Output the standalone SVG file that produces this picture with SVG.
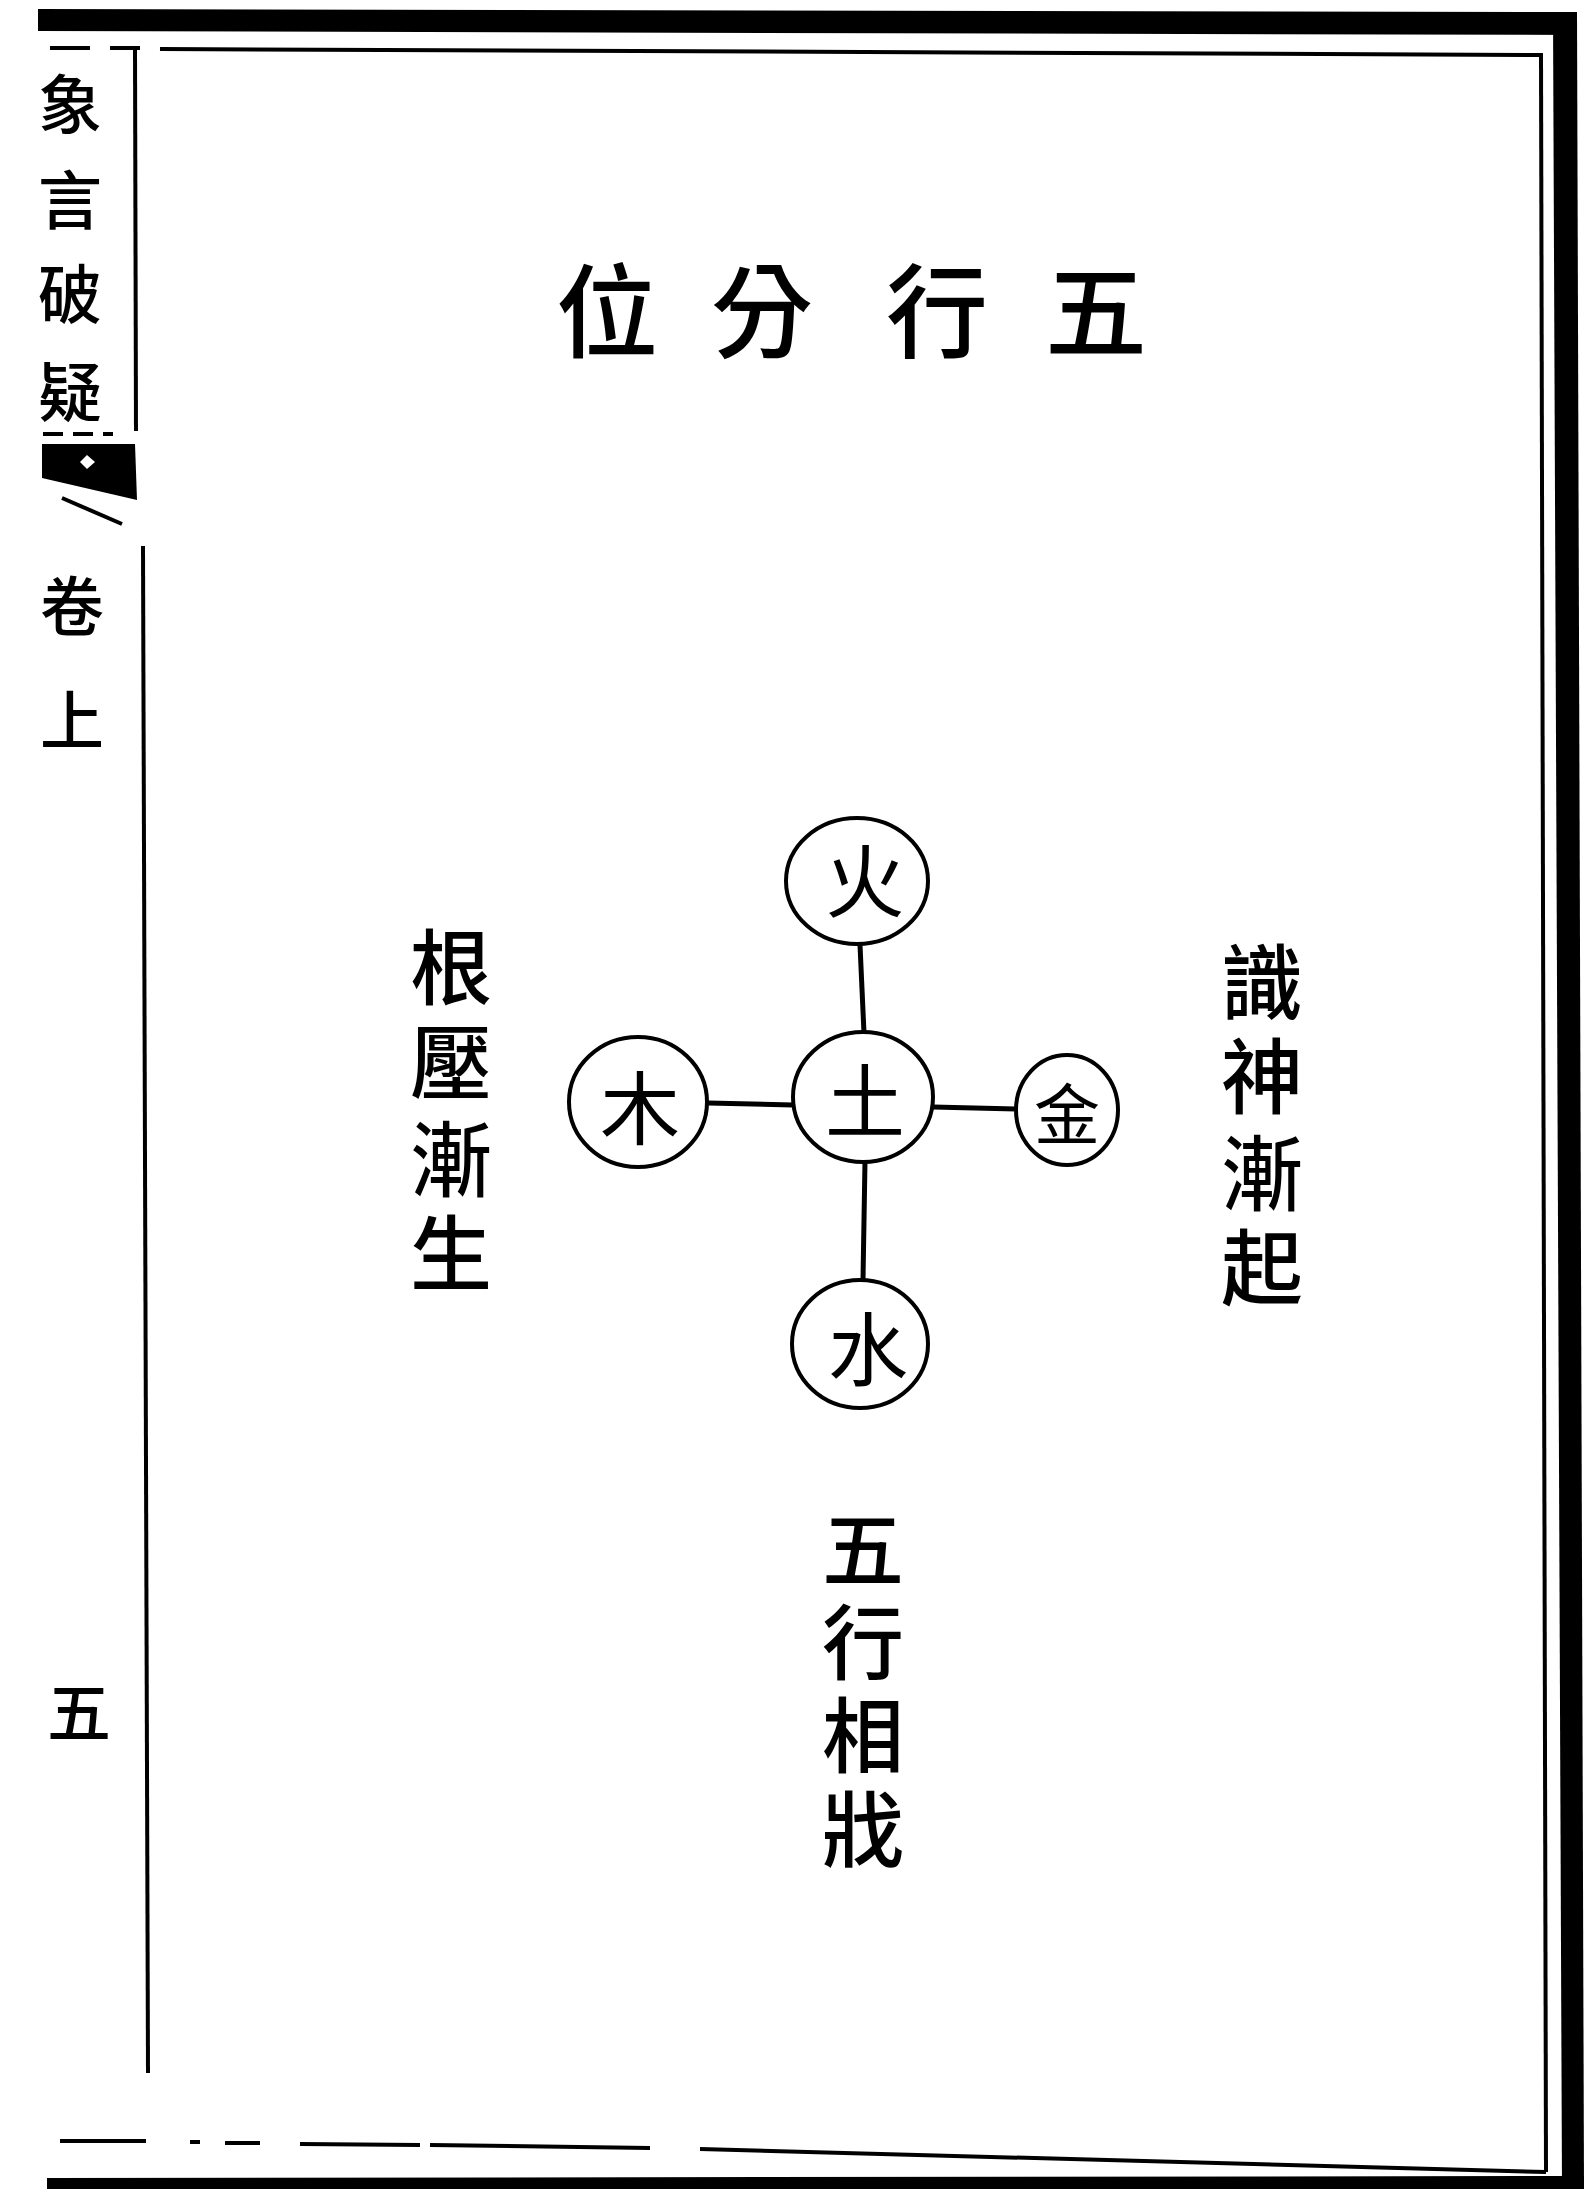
<svg xmlns="http://www.w3.org/2000/svg" width="1584" height="2189" viewBox="0 0 1584 2189">
<style>
.cjk{font-family:"Noto Sans CJK TC","Noto Sans CJK SC",sans-serif;fill:#000;text-anchor:middle;dominant-baseline:central}
.t{font-size:102px;font-weight:500}
.v{font-size:82px;font-weight:500}
.c{font-size:80px}
.s{font-size:64px;font-weight:500}
.node{fill:#fff;stroke:#000;stroke-width:4}
.edge{stroke:#000;stroke-width:5;fill:none}
.rule{stroke:#000;stroke-width:4;fill:none}
</style>
<rect width="1584" height="2189" fill="#fff"/>
<g id="frame">
<polygon points="38,9 1577,12 1577,35 38,31" fill="#000"/>
<polygon points="1553,12 1577,12 1584,2189 1562,2189" fill="#000"/>
<polygon points="47,2178 1584,2176 1584,2189 47,2189" fill="#000"/>
<path class="rule" d="M50,48 L90,48 M110,48 L140,48 M160,49 L1543,55"/>
<path class="rule" d="M1541,55 L1546,2172"/>
<path class="rule" d="M60,2141 L146,2141 M190,2142 L200,2142 M225,2143 L260,2143 M300,2144 L420,2145 M430,2145 L650,2148 M700,2149 L1546,2172"/>
<path class="rule" d="M135,48 L136,431"/>
<path class="rule" d="M143,546 L148,2073"/>
<path class="rule" d="M43,434 L113,434" stroke-dasharray="20,10"/>
<polygon points="42,444 135,444 137,500 42,478" fill="#000"/>
<polygon points="80,462 87,455 95,462 87,469" fill="#fff"/>
<path class="rule" d="M62,498 L122,524" stroke-width="3"/>
</g>
<g id="margin-text">
<text class="cjk s" x="70" y="100">象</text>
<text class="cjk s" x="70" y="196">言</text>
<text class="cjk s" x="70" y="290">破</text>
<text class="cjk s" x="70" y="388">疑</text>
<text class="cjk s" x="72" y="602">卷</text>
<text class="cjk s" x="72" y="716">上</text>
<text class="cjk s" x="79" y="1708" font-weight="700">五</text>
</g>
<g id="title">
<text class="cjk t" x="607" y="305">位</text>
<text class="cjk t" x="762" y="305">分</text>
<text class="cjk t" x="937" y="305">行</text>
<text class="cjk t" x="1096" y="305">五</text>
</g>
<g id="connectors">
<line class="edge" x1="860" y1="945" x2="864" y2="1033"/>
<line class="edge" x1="708" y1="1103" x2="793" y2="1105"/>
<line class="edge" x1="933" y1="1107" x2="1016" y2="1109"/>
<line class="edge" x1="865" y1="1161" x2="863" y2="1280"/>
</g>
<g id="node-fire">
<ellipse class="node" cx="857" cy="881" rx="71" ry="63"/>
<text class="cjk c" x="865" y="876">火</text>
</g>
<g id="node-wood">
<ellipse class="node" cx="638" cy="1102" rx="69" ry="65"/>
<text class="cjk c" x="640" y="1103">木</text>
</g>
<g id="node-earth">
<ellipse class="node" cx="863" cy="1097" rx="70" ry="65"/>
<text class="cjk c" x="865" y="1096">土</text>
</g>
<g id="node-metal">
<ellipse class="node" cx="1067" cy="1110" rx="51" ry="55"/>
<text class="cjk c" x="1067" y="1110" style="font-size:66px">金</text>
</g>
<g id="node-water">
<ellipse class="node" cx="860" cy="1344" rx="68" ry="64"/>
<text class="cjk c" x="868" y="1344">水</text>
</g>
<g id="label-left">
<text class="cjk v" x="451" y="962">根</text>
<text class="cjk v" x="451" y="1057">壓</text>
<text class="cjk v" x="451" y="1154">漸</text>
<text class="cjk v" x="451" y="1248">生</text>
</g>
<g id="label-right">
<text class="cjk v" x="1262" y="977">識</text>
<text class="cjk v" x="1262" y="1071">神</text>
<text class="cjk v" x="1262" y="1168">漸</text>
<text class="cjk v" x="1262" y="1262">起</text>
</g>
<g id="label-bottom">
<text class="cjk v" x="863" y="1544">五</text>
<text class="cjk v" x="863" y="1637">行</text>
<text class="cjk v" x="863" y="1730">相</text>
<text class="cjk v" x="863" y="1824">戕</text>
</g>
</svg>
